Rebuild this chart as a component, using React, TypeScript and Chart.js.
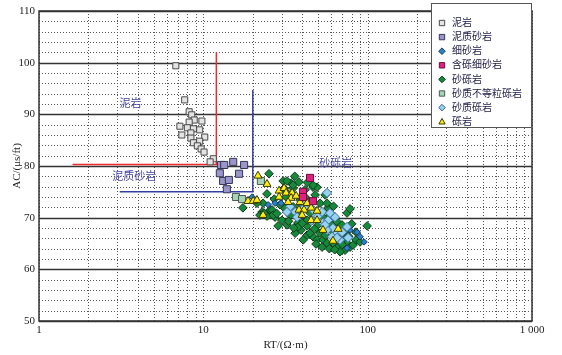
import React, { useEffect, useRef } from 'react';
import { Chart, registerables } from 'chart.js';

Chart.register(...registerables);

// ---------- data (RT in Ω·m, AC in μs/ft) ----------
const SERIES_NAMES = ['泥岩', '泥质砂岩', '细砂岩', '含砾细砂岩', '砂砾岩', '砂质不等粒砾岩', '砂质砾岩', '砾岩'];

const mudstone: [number, number][] = [
  [6.8, 99.4], [7.7, 92.8], [8.2, 90.5], [8.5, 89.9], [8.8, 88.9], [8.2, 88.5], [9.8, 88.7], [7.2, 87.7],
  [8.0, 87.4], [8.7, 87.2], [9.5, 87.0], [7.4, 86.0], [8.4, 86.4], [10.2, 85.6], [8.4, 85.4], [9.5, 84.8],
  [8.7, 84.5], [9.2, 83.9], [9.7, 83.3], [10.1, 82.7], [11.5, 81.4], [11.0, 80.8],
];
const muddySandstone: [number, number][] = [
  [12.8, 80.2], [13.4, 80.2], [15.2, 80.8], [17.7, 80.2], [12.6, 78.6], [16.5, 78.5], [13.2, 77.1], [14.3, 77.3], [13.9, 75.5],
];
const fineSandstone: [number, number][] = [
  [19.8, 74.0], [24.8, 72.5], [27.3, 72.8], [29.7, 72.8], [38.8, 72.5], [78.2, 67.6], [89.9, 66.3], [74.9, 64.1], [95.1, 65.3], [86.1, 67.2],
];
const pebblyFineSandstone: [number, number][] = [
  [44.6, 77.7], [40.4, 75.0], [40.4, 74.0], [46.5, 73.2],
];
const sandyConglomerate: [number, number][] = [
  [25.1, 78.5], [30.6, 77.1], [34.2, 76.7], [38.2, 76.9], [41.6, 75.4], [46.5, 75.9], [47.9, 74.4], [24.4, 74.6],
  [31.0, 75.7], [32.3, 74.8], [35.2, 75.7], [23.1, 72.8], [25.5, 71.5], [22.8, 71.1], [22.1, 70.5], [24.4, 70.3],
  [27.3, 70.1], [30.1, 69.5], [28.5, 68.4], [32.3, 68.6], [37.7, 69.0], [42.8, 68.4], [39.3, 67.6], [42.8, 66.6],
  [46.5, 66.3], [49.2, 65.7], [51.3, 67.0], [53.5, 65.7], [56.6, 65.1], [61.6, 65.1], [66.0, 66.3], [70.8, 65.7],
  [74.9, 65.1], [78.1, 64.3], [81.5, 64.7], [85.0, 65.7], [61.6, 67.2], [60.7, 68.6], [65.1, 69.2], [69.8, 68.6],
  [74.9, 70.9], [78.1, 71.7], [99.2, 68.4], [57.4, 71.9], [51.3, 72.8], [56.6, 72.8], [49.2, 75.9], [46.5, 76.3],
  [17.4, 71.9], [21.2, 72.8], [26.2, 71.5], [26.6, 70.5], [30.6, 72.1], [35.2, 72.1], [33.7, 70.5], [38.8, 70.5],
  [42.8, 69.5], [37.7, 68.2], [44.6, 67.0], [32.3, 77.1], [35.2, 76.3], [31.9, 74.0], [23.4, 70.9], [41.6, 74.0],
  [44.6, 70.9], [49.9, 68.6], [55.1, 66.6], [66.0, 64.3], [52.8, 64.3], [72.8, 63.7], [67.9, 63.4], [40.5, 65.7],
  [36.2, 67.0], [29.3, 72.5], [38.8, 73.4], [55.1, 74.4], [72.8, 67.2], [85.0, 67.2], [89.9, 65.3],
  [28.0, 70.8], [33.0, 69.3], [35.5, 68.0], [40.0, 68.9], [47.5, 67.8], [48.5, 64.9], [58.5, 64.0], [63.0, 63.8],
  [70.0, 64.8], [76.5, 66.4], [80.0, 68.8], [58.0, 70.2], [54.0, 70.0], [44.0, 73.0], [27.0, 73.6], [36.0, 78.0],
  [43.0, 76.8], [62.0, 72.2],
];
const sandyUnequalConglomerate: [number, number][] = [
  [15.8, 74.0], [17.2, 73.6], [22.4, 77.1],
];
const sandyGravel: [number, number][] = [
  [33.7, 72.1], [36.2, 71.1], [37.2, 70.1], [41.0, 71.9], [45.9, 69.5], [49.9, 70.3], [52.8, 71.1], [53.5, 69.0],
  [57.4, 69.5], [61.5, 68.0], [56.6, 67.6], [65.1, 67.0], [69.9, 67.2], [60.7, 66.3], [74.9, 68.2], [56.6, 74.8],
  [32.3, 71.1], [60.7, 70.5], [67.9, 65.7], [76.0, 66.1], [46.5, 71.5], [55.0, 68.6], [63.3, 70.1], [59.0, 70.9], [65.1, 66.1],
];
const conglomerate: [number, number][] = [
  [21.5, 78.1], [24.4, 76.5], [28.9, 75.2], [28.9, 74.0], [18.7, 73.2], [20.1, 73.2], [21.2, 73.4], [31.0, 75.7],
  [31.9, 74.8], [34.7, 74.8], [34.2, 73.8], [36.7, 74.2], [32.8, 73.0], [38.8, 73.0], [42.8, 72.8], [38.2, 71.5],
  [41.0, 71.5], [45.3, 71.9], [49.2, 71.3], [45.3, 69.5], [49.2, 69.5], [23.1, 70.5], [53.5, 67.6], [66.1, 67.8],
  [61.5, 65.5], [39.9, 70.5],
];

// boundary lines
const redBoundary: [number, number][] = [[1.6, 80.3], [12, 80.3], [12, 102]];
const blueBoundary: [number, number][] = [[3.1, 75], [20, 75], [20, 94.7]];

// area labels
const AREA_LABELS = ['泥岩', '泥质砂岩', '砂砾岩'];
const AREA_LABEL_POS: [number, number][] = [[3.6, 92.0], [3.8, 77.9], [64, 80.4]];

// axes
const X_LABEL_VALUES = [1, 10, 100, 1000];
const X_LABEL_TEXT = ['1', '10', '100', '1 000'];
const Y_MIN = 50;
const Y_MAX = 110;

const X_GRID: number[] = [];
for (let e = 0; e < 3; e++) for (let s = 1; s < 10; s++) X_GRID.push(s * Math.pow(10, e));
X_GRID.push(1000);
const Y_GRID: number[] = [];
for (let v = Y_MIN; v <= Y_MAX; v += 2) Y_GRID.push(v);

const FONT = '"Liberation Serif", "Noto Sans CJK SC", serif';

type Sty = { shape: 'rect' | 'rectRot' | 'triangle'; r: number; fill: string; stroke: string; order: number };
const STYLES: Sty[] = [
  { shape: 'rect', r: 4.3, fill: '#e4e4e4', stroke: '#4a4a4a', order: 6 },
  { shape: 'rect', r: 5, fill: '#9a96cc', stroke: '#353555', order: 6 },
  { shape: 'rectRot', r: 3.2, fill: '#2a80c0', stroke: '#1a3a70', order: 3 },
  { shape: 'rect', r: 5, fill: '#e0207f', stroke: '#6a1038', order: 0 },
  { shape: 'rectRot', r: 4.3, fill: '#17893a', stroke: '#0b3b1c', order: 5 },
  { shape: 'rect', r: 5, fill: '#a6d4b4', stroke: '#4a5a50', order: 4 },
  { shape: 'rectRot', r: 4.6, fill: '#96d2f2', stroke: '#3a6a90', order: 2 },
  { shape: 'triangle', r: 4.6, fill: '#ffee10', stroke: '#3a3a00', order: 1 },
];
const SERIES = [mudstone, muddySandstone, fineSandstone, pebblyFineSandstone, sandyConglomerate, sandyUnequalConglomerate, sandyGravel, conglomerate];

function drawMarker(ctx: CanvasRenderingContext2D, s: Sty, x: number, y: number, r: number) {
  ctx.beginPath();
  if (s.shape === 'rect') {
    const h = r * Math.SQRT1_2;
    ctx.rect(x - h, y - h, 2 * h, 2 * h);
  } else if (s.shape === 'rectRot') {
    ctx.moveTo(x, y - r); ctx.lineTo(x + r, y); ctx.lineTo(x, y + r); ctx.lineTo(x - r, y); ctx.closePath();
  } else {
    ctx.moveTo(x, y - r); ctx.lineTo(x + r * 0.95, y + r * 0.7); ctx.lineTo(x - r * 0.95, y + r * 0.7); ctx.closePath();
  }
  ctx.fillStyle = s.fill; ctx.strokeStyle = s.stroke; ctx.lineWidth = 1;
  ctx.fill(); ctx.stroke();
}

const gridPlugin = {
  id: 'gridFrame',
  beforeDatasetsDraw(chart: any) {
    const { ctx, chartArea: { left, right, top, bottom }, scales: { x, y } } = chart;
    ctx.save();
    ctx.lineWidth = 1;
    ctx.strokeStyle = '#555';
    ctx.setLineDash([1, 2]);
    for (const v of X_GRID) {
      const px = Math.round(x.getPixelForValue(v)) + 0.5;
      ctx.beginPath(); ctx.moveTo(px, top); ctx.lineTo(px, bottom); ctx.stroke();
    }
    for (const v of Y_GRID) {
      if (v % 10 === 0) continue;
      const py = Math.round(y.getPixelForValue(v)) + 0.5;
      ctx.beginPath(); ctx.moveTo(left, py); ctx.lineTo(right, py); ctx.stroke();
    }
    ctx.setLineDash([]);
    ctx.strokeStyle = '#333';
    ctx.lineWidth = 1.3;
    for (const v of Y_GRID) {
      if (v % 10 !== 0) continue;
      const py = Math.round(y.getPixelForValue(v)) + 0.5;
      ctx.beginPath(); ctx.moveTo(left, py); ctx.lineTo(right, py); ctx.stroke();
    }
    ctx.lineWidth = 1.5;
    ctx.strokeRect(left, top, right - left, bottom - top);
    ctx.restore();
  },
  afterDraw(chart: any) {
    const { ctx, chartArea: { right, top }, scales: { x, y } } = chart;
    ctx.save();
    // area labels
    ctx.font = `11px ${FONT}`;
    ctx.fillStyle = '#4848a0';
    ctx.textAlign = 'center';
    ctx.textBaseline = 'middle';
    AREA_LABELS.forEach((t, i) => {
      ctx.fillText(t, x.getPixelForValue(AREA_LABEL_POS[i][0]), y.getPixelForValue(AREA_LABEL_POS[i][1]));
    });
    // legend
    const bx = right - 101, by = top - 8, bw = 101, bh = 125;
    ctx.fillStyle = '#fff';
    ctx.fillRect(bx, by, bw, bh);
    ctx.strokeStyle = '#555';
    ctx.lineWidth = 1;
    ctx.strokeRect(bx + 0.5, by + 0.5, bw - 1, bh - 1);
    ctx.font = `10px ${FONT}`;
    ctx.textAlign = 'left';
    SERIES_NAMES.forEach((name, i) => {
      const cy = by + 20 + i * 14.1;
      drawMarker(ctx, STYLES[i], bx + 11, cy, STYLES[i].shape === 'rect' ? 3.8 : 3.3);
      ctx.fillStyle = '#22224a';
      ctx.fillText(name, bx + 21, cy + 0.5);
    });
    ctx.restore();
  },
};

export default function App() {
  const ref = useRef<HTMLCanvasElement>(null);
  useEffect(() => {
    document.body.style.margin = '0';
    const canvas = ref.current!;
    const datasets: any[] = SERIES.map((pts, i) => ({
      label: SERIES_NAMES[i],
      data: pts.map(([rx, ac]) => ({ x: rx, y: ac })),
      pointStyle: STYLES[i].shape,
      pointRadius: STYLES[i].r,
      pointBackgroundColor: STYLES[i].fill,
      pointBorderColor: STYLES[i].stroke,
      pointBorderWidth: 1,
      showLine: false,
      order: STYLES[i].order,
    }));
    datasets.push({
      label: 'red', data: redBoundary.map(([a, b]) => ({ x: a, y: b })), showLine: true,
      borderColor: '#ee2a2a', borderWidth: 1.5, pointRadius: 0, order: 10,
    });
    datasets.push({
      label: 'blue', data: blueBoundary.map(([a, b]) => ({ x: a, y: b })), showLine: true,
      borderColor: '#3340a0', borderWidth: 1.5, pointRadius: 0, order: 10,
    });
    const chart = new Chart(canvas, {
      type: 'scatter',
      data: { datasets },
      options: {
        responsive: false,
        animation: false,
        devicePixelRatio: 1,
        layout: { padding: { left: 0, top: 11, right: 30, bottom: 0 } },
        plugins: { legend: { display: false }, tooltip: { enabled: false } },
        scales: {
          x: {
            type: 'logarithmic', min: 1, max: 1000,
            afterBuildTicks: (s: any) => { s.ticks = X_GRID.map((v) => ({ value: v })); },
            afterFit: (s: any) => { s.height = 34; },
            grid: { display: false, drawTicks: false },
            border: { display: false },
            ticks: {
              autoSkip: false, maxRotation: 0, padding: 3, color: '#222',
              font: { family: FONT, size: 11 },
              callback: (v: any) => { const i = X_LABEL_VALUES.indexOf(Number(v)); return i >= 0 ? X_LABEL_TEXT[i] : ''; },
            },
            title: { display: true, text: 'RT/(Ω·m)', color: '#222', font: { family: FONT, size: 11 }, padding: { top: 0, bottom: 3 } },
          },
          y: {
            type: 'linear', min: Y_MIN, max: Y_MAX,
            afterBuildTicks: (s: any) => { s.ticks = Y_GRID.map((v) => ({ value: v })); },
            afterFit: (s: any) => { s.width = 39; },
            grid: { display: false, drawTicks: false },
            border: { display: false },
            ticks: {
              autoSkip: false, padding: 4, color: '#222',
              font: { family: FONT, size: 11 },
              callback: (v: any) => (Number(v) % 10 === 0 ? String(v) : ''),
            },
            title: { display: true, text: 'AC/(μs/ft)', color: '#222', font: { family: FONT, size: 11 }, padding: { top: 11, bottom: 0 } },
          },
        },
      },
      plugins: [gridPlugin],
    } as any);
    return () => chart.destroy();
  }, []);
  return (
    <div style={{ width: 562, height: 355 }}>
      <canvas ref={ref} width={562} height={355} style={{ display: 'block' }} />
    </div>
  );
}
